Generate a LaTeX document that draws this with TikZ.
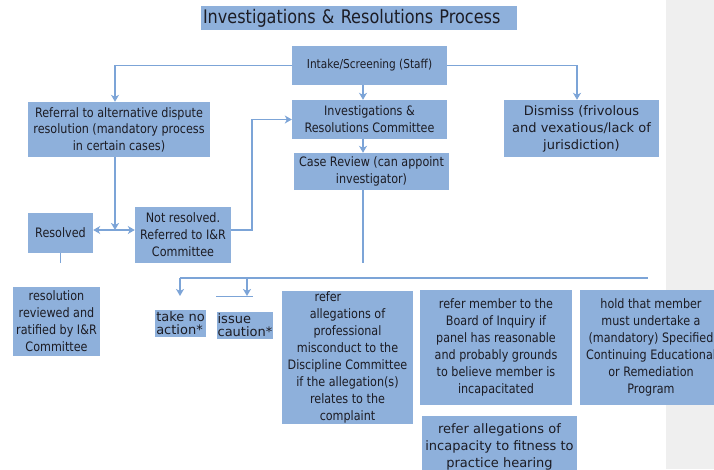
\documentclass[tikz,border=0pt]{standalone}
\usepackage{fontspec}
\setmainfont{DejaVu Sans}
\newfontfamily\narrowfont[FakeStretch=0.86]{DejaVu Sans}
\usepackage{tikz}
\usetikzlibrary{arrows.meta,calc}
\usepackage{xcolor}
\definecolor{boxblue}{RGB}{142,176,219}
\definecolor{lineblue}{RGB}{124,164,215}
\definecolor{panelgray}{RGB}{239,239,239}
\definecolor{inkdark}{RGB}{28,28,36}

\begin{document}
\begin{tikzpicture}[x=1pt, y=-1pt, >={Stealth[length=7pt,width=8pt,inset=2pt]},
  box/.style={fill=boxblue, text=inkdark, inner sep=1pt, align=center,
    font=\narrowfont\fontsize{13}{17}\selectfont},
  wide/.style={box, font=\fontsize{13}{17}\selectfont},
  link/.style={draw=lineblue, line width=1.6pt}]
  \useasboundingbox (0,0) rectangle (714,469);
  \fill[panelgray] (666,0) rectangle (714,469);
  % top row
  \node[box, text width=312pt, inner xsep=2pt, align=left, minimum height=24pt, font=\narrowfont\fontsize{18.7}{20}\selectfont] (title) at (359,18) {Investigations \& Resolutions Process};
  \node[box, minimum width=155pt, minimum height=39pt, font=\narrowfont\fontsize{12.3}{16}\selectfont] (intake) at (369.5,65.5) {Intake/Screening (Staff)};
  \node[box, minimum width=155pt, minimum height=39pt] (irc) at (369.5,119.5) {Investigations \&\\Resolutions Committee};
  \node[box, minimum width=155pt, minimum height=37pt] (review) at (371.5,171.5) {Case Review (can appoint\\investigator)};
  \node[wide, minimum width=155pt, minimum height=57pt] (dismiss) at (581.5,128.5) {Dismiss (frivolous\\and vexatious/lack of\\jurisdiction)};
  \node[box, minimum width=182pt, minimum height=55pt, font=\narrowfont\fontsize{13}{16.5}\selectfont] (referral) at (119,129.5) {Referral to alternative dispute\\resolution (mandatory process\\in certain cases)};
  % dispute resolution branch
  \node[box, minimum width=65pt, minimum height=40pt] (resolved) at (60.5,232.5) {Resolved};
  \node[box, minimum width=96pt, minimum height=56pt] (notres) at (183,235) {Not resolved.\\Referred to I\&R\\Committee};
  \node[box, minimum width=87pt, minimum height=69pt] (ratified) at (56.5,321.5) {resolution\\reviewed and\\ratified by I\&R\\Committee};
  % outcomes
  \node[wide, minimum width=45pt, minimum height=27pt, align=left, font=\fontsize{13}{13}\selectfont] (noaction) at (180.5,323.5) {take no\\action*};
  \node[wide, minimum width=50pt, minimum height=27pt, align=left, font=\fontsize{13}{13}\selectfont] (caution) at (245,325.5) {issue\\caution*};
  \node[box, minimum width=131pt, minimum height=133pt] (discipline) at (347.5,357.5) {refer\hspace*{3em}\\allegations of\\professional\\misconduct to the\\Discipline Committee\\if the allegation(s)\\relates to the\\complaint};
  \node[box, minimum width=152pt, minimum height=115pt] (inquiry) at (496,347.5) {refer member to the\\Board of Inquiry if\\panel has reasonable\\and probably grounds\\to believe member is\\incapacitated};
  \node[box, minimum width=142pt, minimum height=115pt] (remedial) at (651,347.5) {hold that member\\must undertake a\\(mandatory) Specified\\Continuing Educational\\or Remediation\\Program};
  \node[wide, minimum width=155pt, minimum height=62pt, anchor=north] (fitness) at (499.5,416) {refer allegations of\\incapacity to fitness to\\practice hearing};
  % free ends
  \coordinate (spine) at (363,0);
  \coordinate (meet) at (115,230);
  \coordinate (drop) at (363,263);
  \coordinate (barL) at (180,278);
  \coordinate (barR) at (648,278);
  \coordinate (barM) at (247,278);
  \coordinate (tipA) at (180,296);
  \coordinate (tipB) at (247,296);
  % connectors
  \draw[link, ->] (intake.west) -| (meet |- referral.north);
  \draw[link, ->] (intake.east) -| ($(dismiss.north)+(-4.5,0)$);
  \draw[link, ->] (intake.south -| spine) -- (irc.north -| spine);
  \draw[link, ->] (irc.south -| spine) -- (review.north -| spine);
  \draw[link] (review.south -| spine) -- (drop);
  \draw[link, ->] (meet |- referral.south) -- (meet);
  \draw[link, <->] (resolved.east |- meet) -- (notres.west |- meet);
  \draw[link, ->] (notres.east |- meet) -- ++(21,0) |- (irc.west);
  \draw[link] (resolved.south) -- ++(0,10);
  \draw[link] (barL) -- (barR);
  \draw[link, ->] (barL) -- (tipA);
  \draw[link, ->] (barM) -- (tipB);
  \draw[draw=lineblue, line width=1pt] (216,296) -- (253,296);
\end{tikzpicture}
\end{document}
